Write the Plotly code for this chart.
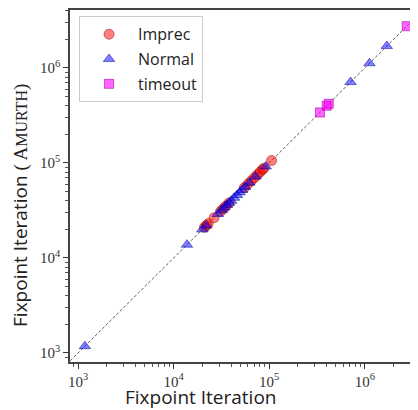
import plotly.graph_objects as go

# Imprec (red circles)
imprec_x = [21000, 22000, 23000, 26500, 31000, 33000, 35000, 38000, 55000, 60000,
            65000, 70000, 75000, 80000, 85000, 88000, 106000]
imprec_y = [21000, 22000, 23000, 26500, 31000, 33000, 35000, 38000, 55000, 60000,
            65000, 70000, 75000, 80000, 85000, 88000, 106000]

# Normal (blue triangles)
normal_x = [1180, 13800, 20000, 22000, 29000, 32000, 34000, 36000, 38000, 40000,
            43000, 46000, 49000, 52000, 56000, 62000, 72000, 92000,
            710000, 1120000, 1700000]
normal_y = [1180, 13800, 20000, 22000, 29000, 32000, 34000, 36000, 38000, 40000,
            43000, 46000, 49000, 52000, 56000, 62000, 72000, 92000,
            710000, 1120000, 1700000]

# timeout (magenta squares)
timeout_x = [340000, 400000, 420000, 2750000]
timeout_y = [340000, 400000, 420000, 2750000]

diag = [700, 6000000]

SANS = "Open Sans, DejaVu Sans, sans-serif"
SERIF = "Liberation Serif, DejaVu Serif, serif"

fig = go.Figure()

fig.add_trace(go.Scatter(
    x=diag, y=diag, mode="lines",
    line=dict(color="#333", width=0.8, dash="3px,2px"),
    showlegend=False, hoverinfo="skip",
))

fig.add_trace(go.Scatter(
    x=imprec_x, y=imprec_y, mode="markers", name="Imprec", legendgroup="a",
    marker=dict(symbol="circle", size=10, color="rgba(255,0,0,0.5)",
                line=dict(color="rgba(160,0,0,0.5)", width=1)),
))
fig.add_trace(go.Scatter(
    x=normal_x, y=normal_y, mode="markers", name="Normal", legendgroup="b",
    marker=dict(symbol="triangle-up", size=10, color="rgba(0,0,255,0.5)",
                line=dict(color="rgba(0,0,160,0.5)", width=1)),
))
fig.add_trace(go.Scatter(
    x=timeout_x, y=timeout_y, mode="markers", name="timeout", legendgroup="c",
    marker=dict(symbol="square", size=9, color="rgba(255,0,255,0.6)",
                line=dict(color="rgba(170,0,170,0.6)", width=1)),
))

tickvals = [1e3, 1e4, 1e5, 1e6]
ticktext = ["10<sup>3</sup>", "10<sup>4</sup>", "10<sup>5</sup>", "10<sup>6</sup>"]

axis_common = dict(
    type="log",
    tickvals=tickvals,
    ticktext=ticktext,
    tickfont=dict(family=SERIF, size=15, color="#333"),
    ticks="outside",
    ticklen=5,
    tickcolor="#333",
    showline=True,
    linecolor="#444",
    linewidth=1.5,
    showgrid=False,
    zeroline=False,
    minor=dict(ticks="outside", ticklen=3, tickcolor="#555", dtick="D1", showgrid=False),
)

# the page adds an 8px body margin, so the figure is 8px smaller than the window
fig.update_layout(
    width=410,
    height=402,
    paper_bgcolor="white",
    plot_bgcolor="white",
    margin=dict(l=62, r=0, t=2, b=48),
    font=dict(family=SANS, color="#222"),
    xaxis=dict(**axis_common, range=[2.916, 6.557], mirror=True),
    yaxis=dict(**axis_common, range=[2.905, 6.61]),
    legend=dict(
        x=0.026, y=0.982, xanchor="left", yanchor="top",
        bgcolor="white", bordercolor="#ccc", borderwidth=1,
        font=dict(family=SANS, size=16, color="#222"),
        itemwidth=48, tracegroupgap=1, traceorder="grouped",
    ),
)

# axis titles as annotations so they sit where the reference puts them
fig.add_annotation(
    text="Fixpoint Iteration", xref="paper", yref="paper",
    x=0.376, y=-0.1, xanchor="center", yanchor="middle", showarrow=False,
    font=dict(family=SANS, size=19, color="#222"),
)
fig.add_annotation(
    text=("Fixpoint Iteration <span style='font-family:Liberation Serif'>( A"
          "<span style='font-size:16px'>MURTH</span>)</span>"),
    xref="paper", yref="paper", textangle=-90,
    x=-0.142, y=0.445, xanchor="center", yanchor="middle", showarrow=False,
    font=dict(family=SANS, size=19, color="#222"),
)

fig.write_html("out.html")
